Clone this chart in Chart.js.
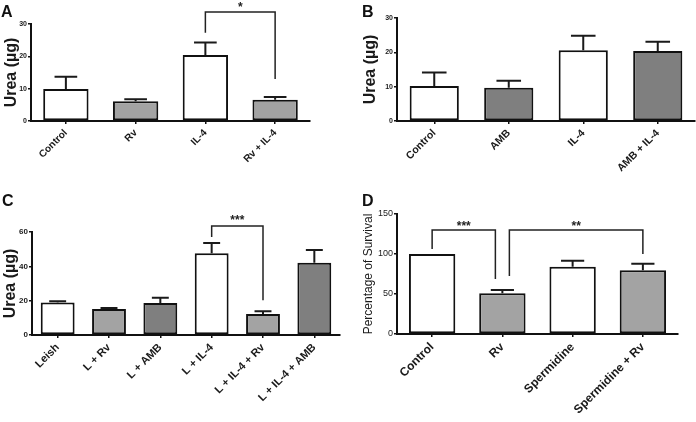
<!DOCTYPE html>
<html><head><meta charset="utf-8">
<script src="https://cdn.jsdelivr.net/npm/chart.js@4.4.1/dist/chart.umd.min.js"></script>
<style>
html,body{margin:0;padding:0;background:#fff;width:696px;height:422px;overflow:hidden}
canvas{position:absolute}
</style></head><body>
<canvas id="cA" width="320" height="200" style="left:0px;top:0px"></canvas>
<canvas id="cB" width="348" height="200" style="left:348px;top:0px"></canvas>
<canvas id="cC" width="348" height="237" style="left:0px;top:185px"></canvas>
<canvas id="cD" width="348" height="237" style="left:348px;top:185px"></canvas>
<script>
// ---- data ----
const catsA = ['Control', 'Rv', 'IL-4', 'Rv + IL-4'];
const valsA = [9.9, 6.1, 20.4, 6.6];
const errsA = [3.8, 0.6, 3.9, 0.8];
const ticksA = [0, 10, 20, 30];

const catsB = ['Control', 'AMB', 'IL-4', 'AMB + IL-4'];
const valsB = [10.2, 9.7, 20.6, 20.4];
const errsB = [3.9, 2.0, 4.2, 2.7];
const ticksB = [0, 10, 20, 30];

const catsC = ['Leish', 'L + Rv', 'L + AMB', 'L + IL-4', 'L + IL-4 + Rv', 'L + IL-4 + AMB'];
const valsC = [19.0, 15.1, 18.6, 47.6, 12.2, 42.1];
const errsC = [0.6, 0.6, 3.1, 6.0, 1.6, 7.4];
const ticksC = [0, 20, 40, 60];

const catsD = ['Control', 'Rv', 'Spermidine', 'Spermidine + Rv'];
const valsD = [100, 50.8, 84.2, 79.6];
const errsD = [0, 4.2, 7.5, 8.3];
const ticksD = [0, 50, 100, 150];

// significance brackets: category indices and y values (data units)
const bracketsA = [{from: 2, to: 3, left: 27.3, top: 33.7, right: 13.0, label: '*'}];
const bracketsB = [];
const bracketsC = [{from: 3, to: 4, left: 57.1, top: 63.5, right: 20.2, label: '***'}];
const bracketsD = [
  {from: 0, to: 1, left: 106.3, top: 130, right: 68.8, label: '***'},
  {from: 1, to: 3, left: 72.5, top: 130, right: 100, label: '**'}
];

// ---- styles ----
const W = '#ffffff', L = '#a3a3a3', Dk = '#7f7f7f';
const FONT = '"Liberation Sans", Arial, sans-serif';

const annot = {
  id: 'annot',
  afterDatasetsDraw(chart, args, o) {
    const ctx = chart.ctx, xs = chart.scales.x, ys = chart.scales.y;
    const meta = chart.getDatasetMeta(0);
    const data = chart.data.datasets[0].data;
    ctx.save();
    ctx.strokeStyle = '#1a1a1a';
    ctx.lineWidth = 2;
    (o.errors || []).forEach((e, i) => {
      if (!e) return;
      const bar = meta.data[i];
      const cx = bar.x;
      const top = ys.getPixelForValue(data[i]);
      const end = ys.getPixelForValue(data[i] + e);
      const hw = bar.width / 4;
      ctx.beginPath();
      ctx.moveTo(cx, top); ctx.lineTo(cx, end);
      ctx.moveTo(cx - hw, end); ctx.lineTo(cx + hw, end);
      ctx.stroke();
    });
    ctx.lineWidth = 1.5;
    ctx.strokeStyle = '#222';
    (o.brackets || []).forEach((b, k) => {
      const off = (o.offsets && o.offsets[k]) || [0, 0];
      const x1 = xs.getPixelForValue(b.from) + off[0];
      const x2 = xs.getPixelForValue(b.to) + off[1];
      const yt = ys.getPixelForValue(b.top);
      ctx.beginPath();
      ctx.moveTo(x1, ys.getPixelForValue(b.left));
      ctx.lineTo(x1, yt); ctx.lineTo(x2, yt);
      ctx.lineTo(x2, ys.getPixelForValue(b.right));
      ctx.stroke();
      ctx.fillStyle = '#222';
      ctx.font = 'bold 12px ' + FONT;
      ctx.textAlign = 'center';
      ctx.textBaseline = 'alphabetic';
      ctx.fillText(b.label, (x1 + x2) / 2, yt + o.starDy);
    });
    ctx.fillStyle = '#111';
    ctx.font = 'bold 16px ' + FONT;
    ctx.textAlign = 'left';
    ctx.textBaseline = 'alphabetic';
    ctx.fillText(o.letter, o.lx, o.ly);
    ctx.restore();
  }
};

function make(id, c) {
  return new Chart(document.getElementById(id), {
    type: 'bar',
    data: {
      labels: c.cats,
      datasets: [{
        data: c.vals,
        backgroundColor: c.colors,
        borderColor: '#111',
        borderWidth: 2,
        borderSkipped: false,
        categoryPercentage: 1,
        barPercentage: c.barPct
      }]
    },
    options: {
      responsive: false,
      animation: false,
      events: [],
      layout: {padding: {top: c.padTop, right: c.padRight, left: 0, bottom: 0}},
      plugins: {
        legend: {display: false},
        tooltip: {enabled: false},
        annot: {errors: c.errs, brackets: c.brackets, offsets: c.offsets, letter: c.letter, lx: c.lx, ly: c.ly, starDy: c.starDy}
      },
      scales: {
        x: {
          afterFit: s => { s.height = c.xH; },
          grid: {display: true, drawOnChartArea: false, drawTicks: true, tickLength: 3, offset: false, color: '#111', lineWidth: 1.5},
          border: {display: true, color: '#111', width: 2},
          ticks: {
            autoSkip: false, minRotation: 45, maxRotation: 45, padding: 3,
            color: '#1a1a1a', font: {family: FONT, size: c.xFont, weight: 'bold'}
          }
        },
        y: {
          min: 0, max: c.ticks[c.ticks.length - 1],
          afterBuildTicks: s => { s.ticks = c.ticks.map(v => ({value: v})); },
          afterFit: s => { s.width = c.yW; },
          grid: {display: true, drawOnChartArea: false, drawTicks: true, tickLength: 3, color: '#111', lineWidth: 1.5},
          border: {display: true, color: '#111', width: 2},
          ticks: {padding: 1, color: '#1a1a1a', font: {family: FONT, size: c.yFont, weight: c.yWeight}},
          title: {
            display: true, text: c.title, color: '#1a1a1a',
            font: {family: FONT, size: c.titleSize, weight: c.titleWeight},
            padding: {top: c.titlePad, bottom: 0}
          }
        }
      }
    },
    plugins: [annot]
  });
}

make('cA', {
  cats: catsA, vals: valsA, errs: errsA, ticks: ticksA, brackets: bracketsA,
  colors: [W, L, W, L], barPct: 0.65,
  padTop: 24, padRight: 10, yW: 31, xH: 79,
  xFont: 10, yFont: 7, yWeight: 'bold', title: 'Urea (\u00b5g)', titleSize: 16, titleWeight: 'bold', titlePad: 2,
  letter: 'A', lx: 1, ly: 17, starDy: -1
});
make('cB', {
  cats: catsB, vals: valsB, errs: errsB, ticks: ticksB, brackets: bracketsB,
  colors: [W, Dk, W, Dk], barPct: 0.66,
  padTop: 18, padRight: 1, yW: 49, xH: 79,
  xFont: 10.5, yFont: 7, yWeight: 'bold', title: 'Urea (\u00b5g)', titleSize: 16, titleWeight: 'bold', titlePad: 13,
  letter: 'B', lx: 14, ly: 17, starDy: -1
});
make('cC', {
  cats: catsC, vals: valsC, errs: errsC, ticks: ticksC, brackets: bracketsC,
  colors: [W, L, Dk, W, L, Dk], barPct: 0.66,
  padTop: 47, padRight: 8, yW: 32, xH: 87,
  xFont: 11, yFont: 8, yWeight: 'bold', title: 'Urea (\u00b5g)', titleSize: 16, titleWeight: 'bold', titlePad: 1,
  letter: 'C', lx: 2, ly: 21, starDy: -2
});
make('cD', {
  cats: catsD, vals: valsD, errs: errsD, ticks: ticksD, brackets: bracketsD,
  offsets: [[0, -7], [7, 0]],
  colors: [W, L, W, L], barPct: 0.66,
  padTop: 29, padRight: 18, yW: 49, xH: 88,
  xFont: 12, yFont: 9, yWeight: 'normal', title: 'Percentage of Survival', titleSize: 12, titleWeight: 'normal', titlePad: 13,
  letter: 'D', lx: 14, ly: 21, starDy: 0
});
</script>
</body></html>
